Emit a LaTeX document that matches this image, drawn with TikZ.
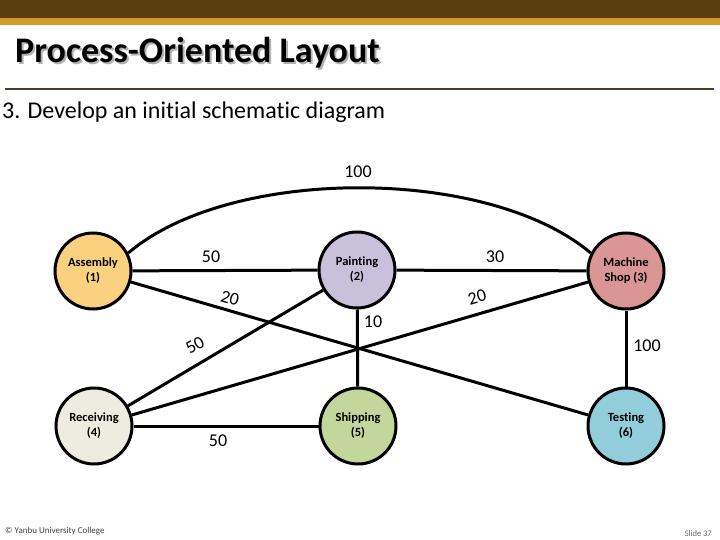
\documentclass[tikz,border=0pt]{standalone}
\usepackage{fontspec}
\setmainfont[Ligatures=NoCommon]{Carlito}
\definecolor{barbrown}{HTML}{5A3E12}
\definecolor{bargold}{HTML}{D69A2A}
\definecolor{rulecol}{HTML}{4A3E2A}
\definecolor{cA}{HTML}{FAD17F}
\definecolor{cP}{HTML}{C9C0DC}
\definecolor{cM}{HTML}{D99694}
\definecolor{cR}{HTML}{EEECE1}
\definecolor{cS}{HTML}{C3D69B}
\definecolor{cT}{HTML}{92CDDC}
\tikzset{
  dept/.style={circle, draw=black, line width=3pt, minimum size=76pt, inner sep=0pt, align=center, font=\fontsize{12.5}{15}\selectfont\bfseries},
  flow/.style={line width=3pt, draw=black},
  flab/.style={font=\fontsize{18}{20}\selectfont, inner sep=0pt},
}
\begin{document}
\begin{tikzpicture}[x=1pt,y=-1pt]
\useasboundingbox (0,0) rectangle (720,540);
% header bars
\fill[barbrown] (0,0) rectangle (720,18);
\fill[bargold] (0,18) rectangle (720,25);
% title
\node[anchor=west, text=black!30, font=\fontsize{36}{40}\selectfont\bfseries, inner sep=0pt] (titleshadow) at (17,55) {Process-Oriented Layout};
\node[anchor=west, font=\fontsize{36}{40}\selectfont\bfseries, inner sep=0pt] (title) at (15,53) {Process-Oriented Layout};
\draw[rulecol, line width=2pt] (5,89) -- (714,89);
\node[anchor=west, font=\fontsize{24}{28}\selectfont, inner sep=0pt] (sub) at (2,112) {3. Develop an initial schematic diagram};
% departments
\node[dept, fill=cA] (A) at (93,271) {Assembly\\(1)};
\node[dept, fill=cP] (P) at (357,270) {Painting\\(2)};
\node[dept, fill=cM] (M) at (626,271) {Machine\\Shop (3)};
\node[dept, fill=cR] (R) at (94,426) {Receiving\\(4)};
\node[dept, fill=cS] (S) at (358,426) {Shipping\\(5)};
\node[dept, fill=cT] (T) at (626,426) {Testing\\(6)};
% flows
\draw[flow] (A) -- (P);
\draw[flow] (P) -- (M);
\draw[flow] (A) -- (T);
\draw[flow] (R) -- (M);
\draw[flow] (R) -- (P);
\draw[flow] (R) -- (S);
\draw[flow] (P) -- (S);
\draw[flow] (M) -- (T);
\draw[flow] (A.27) .. controls (230,166) and (488,166) .. (M.153);
% flow labels
\node[flab] (l1) at (358,172) {100};
\node[flab] (l2) at (211,257) {50};
\node[flab] (l3) at (495,257) {30};
\node[flab, rotate=-16] (l4) at (230,298) {20};
\node[flab, rotate=16] (l5) at (477,297) {20};
\node[flab, rotate=30] (l6) at (195,345) {50};
\node[flab] (l7) at (373,322) {10};
\node[flab] (l8) at (647,346) {100};
\node[flab] (l9) at (218,441) {50};
% footer
\node[anchor=west, font=\fontsize{9}{10}\selectfont, text=black!75, inner sep=0pt] (foot) at (5,531) {© Yanbu University College};
\node[anchor=east, font=\fontsize{8.5}{10}\selectfont, text=black!60, inner sep=0pt] (slide) at (712,534) {Slide 37};
\end{tikzpicture}
\end{document}
